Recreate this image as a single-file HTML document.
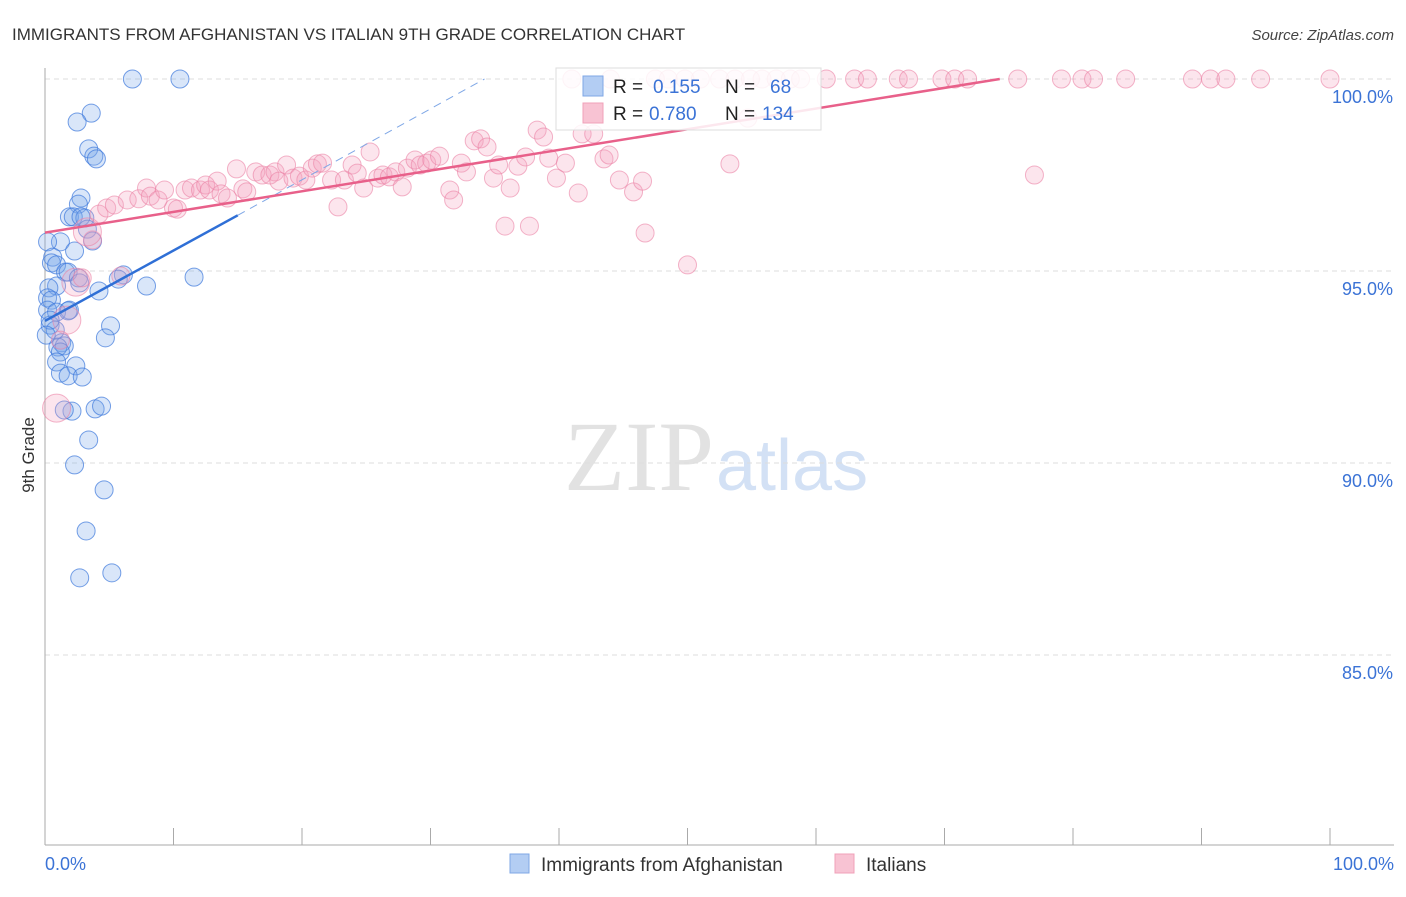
<!DOCTYPE html>
<html><head><meta charset="utf-8"><style>
body{margin:0;background:#fff;font-family:"Liberation Sans",sans-serif}
</style></head><body>
<svg id="chart" width="1406" height="892" xmlns="http://www.w3.org/2000/svg">
<text x="12" y="40" font-size="17" fill="#333">IMMIGRANTS FROM AFGHANISTAN VS ITALIAN 9TH GRADE CORRELATION CHART</text>
<text x="1394" y="40" font-size="15" fill="#444" font-style="italic" text-anchor="end">Source: ZipAtlas.com</text>
<text x="714" y="490" font-size="100" fill="#e2e2e2" text-anchor="end" font-family="Liberation Serif,serif">ZIP</text>
<text x="716" y="490" font-size="72" fill="#d3e1f5">atlas</text>
<g id="grid"></g>
<g id="axes"></g>
<g id="marks"></g>
<text transform="translate(34,455) rotate(-90)" font-size="17" fill="#333" text-anchor="middle">9th Grade</text>
<text x="45" y="870" font-size="18" fill="#3b73d6">0.0%</text>
<text x="1394" y="870" font-size="18" fill="#3b73d6" text-anchor="end">100.0%</text>
<g>
<rect x="556" y="68" width="265" height="62" fill="#fff" fill-opacity="0.85" stroke="#ddd"/>
<rect x="583" y="76" width="20" height="20" fill="#b3cdf3" stroke="#7fa7e6"/>
<rect x="583" y="103" width="20" height="20" fill="#f8c3d3" stroke="#f0a0b8"/>
<text x="613" y="93" font-size="19" fill="#222">R = </text><text x="653" y="93" font-size="19" fill="#3b73d6">0.155</text>
<text x="725" y="93" font-size="19" fill="#222">N = </text><text x="770" y="93" font-size="19" fill="#3b73d6">68</text>
<text x="613" y="120" font-size="19" fill="#222">R = </text><text x="649" y="120" font-size="19" fill="#3b73d6">0.780</text>
<text x="725" y="120" font-size="19" fill="#222">N = </text><text x="762" y="120" font-size="19" fill="#3b73d6">134</text>
</g>
<g>
<rect x="510" y="854" width="19" height="19" fill="#b3cdf3" stroke="#7fa7e6"/>
<text x="541" y="871" font-size="19" fill="#333">Immigrants from Afghanistan</text>
<rect x="835" y="854" width="19" height="19" fill="#f8c3d3" stroke="#f0a0b8"/>
<text x="866" y="871" font-size="19" fill="#333">Italians</text>
</g>
</svg>
<script>
const yTicks=[100,95,90,85];
const yTickLabels=["100.0%","95.0%","90.0%","85.0%"];
const xTicks=[0,10,20,30,40,50,60,70,80,90,100];
const blueX=[6.8,10.5,3.6,2.5,3.4,3.8,4.0,2.8,2.6,1.9,2.2,3.1,2.8,3.3,1.2,0.2,2.3,3.7,0.6,0.5,0.9,1.6,1.8,2.6,6.1,5.7,2.7,0.9,0.3,4.2,7.9,11.6,0.2,0.5,0.2,0.9,1.9,1.8,0.4,5.1,4.7,1.3,1.5,1.0,1.2,0.9,2.4,1.2,1.8,2.9,2.1,1.5,3.9,4.4,3.4,2.3,4.6,3.2,2.7,5.2,0.8,0.4,0.1];
const blueY=[100,100,99.11,98.88,98.18,97.99,97.92,96.90,96.74,96.41,96.41,96.38,96.41,96.09,95.76,95.76,95.52,95.78,95.36,95.21,95.16,94.97,94.97,94.82,94.90,94.79,94.69,94.61,94.56,94.48,94.61,94.84,94.30,94.24,93.98,93.93,93.98,93.96,93.59,93.57,93.26,93.13,93.05,93.02,92.89,92.63,92.53,92.34,92.27,92.24,91.35,91.38,91.41,91.48,90.60,89.95,89.30,88.23,87.01,87.14,93.46,93.72,93.33];
const pinkX=[0.9,1.7,1.2,2.4,2.9,5.9,3.7,3.3,4.2,4.8,5.4,6.4,7.3,7.9,8.2,8.8,9.3,10.0,10.3,10.9,11.4,12.1,12.5,12.8,13.4,13.7,14.2,14.9,15.4,15.7,16.4,16.9,17.5,17.9,18.2,18.8,19.3,19.8,20.3,20.8,21.2,21.6,22.3,22.8,23.3,23.9,24.3,24.8,25.3,25.9,26.3,26.8,27.3,27.8,28.2,28.8,29.2,29.7,30.1,30.7,31.5,31.8,32.4,32.8,33.4,33.9,34.4,34.9,35.3,35.8,36.2,36.8,37.4,37.7,38.3,38.8,39.2,39.8,40.5,41.5,41.8,42.7,43.5,43.9,44.7,45.8,46.5,46.7,50.0,53.3,77.0,54.7,41.0,44.0,47.5,48.5,49.8,51.0,52.5,53.7,54.9,55.8,56.9,58.0,58.8,60.8,63.0,64.0,66.4,67.2,69.8,70.8,71.8,75.7,79.1,80.7,81.6,84.1,89.3,90.7,91.9,94.6,100];
const pinkY=[91.43,93.72,93.20,94.71,94.82,94.87,95.81,96.02,96.48,96.64,96.72,96.85,96.88,97.16,96.95,96.85,97.11,96.64,96.61,97.11,97.16,97.11,97.24,97.11,97.34,97.01,96.90,97.66,97.14,97.06,97.58,97.50,97.50,97.58,97.34,97.76,97.42,97.47,97.37,97.68,97.79,97.81,97.37,96.67,97.37,97.76,97.55,97.16,98.10,97.42,97.50,97.45,97.58,97.19,97.68,97.89,97.76,97.81,97.89,97.99,97.11,96.85,97.81,97.58,98.39,98.44,98.23,97.42,97.76,96.17,97.16,97.73,97.97,96.17,98.67,98.49,97.94,97.42,97.81,97.03,98.57,98.57,97.92,98.02,97.37,97.06,97.34,95.99,95.16,97.79,97.50,98.98,100,100,100,100,100,100,100,100,100,100,100,100,100,100,100,100,100,100,100,100,100,100,100,100,100,100,100,100,100,100,100];
const pinkBig=[0,1,3,7];
const blueTrend=[[0,93.7],[15,96.45]];
const blueTrendDash=[[15,96.45],[34.2,100]];
const pinkTrend=[[0,96.0],[74.3,100]];
const NS="http://www.w3.org/2000/svg";
const X=v=>45+v*12.85;
const Y=v=>79+(100-v)*38.4;
function mk(tag,attrs,parent){const e=document.createElementNS(NS,tag);for(const k in attrs)e.setAttribute(k,attrs[k]);parent.appendChild(e);return e;}
const grid=document.getElementById('grid'),axes=document.getElementById('axes'),marks=document.getElementById('marks');
yTicks.forEach((t,i)=>{
 const l=mk('line',{x1:45,x2:1394,y1:Y(t),y2:Y(t),stroke:'#ddd','stroke-dasharray':'5,4'},grid);
 
 
 const tx=mk('text',{x:1393,y:Y(t)+24,'font-size':18,fill:'#3b73d6','text-anchor':'end'},grid);
 tx.textContent=yTickLabels[i];
 
 
});
const ax=mk('line',{x1:45,x2:45,y1:68,y2:845,stroke:'#aaa'},axes);


const bx=mk('line',{x1:45,x2:1394,y1:845,y2:845,stroke:'#aaa'},axes);


xTicks.forEach(t=>{
 const l=mk('line',{x1:X(t),x2:X(t),y1:828,y2:845,stroke:'#aaa'},axes);
 
 
});
blueX.forEach((v,i)=>{
 const c=mk('circle',{cx:X(v),cy:Y(blueY[i]),r:9,fill:'rgba(120,165,235,0.28)',stroke:'rgba(60,120,220,0.7)','stroke-width':1},marks);
 
 
});
pinkX.forEach((v,i)=>{
 const c=mk('circle',{cx:X(v),cy:Y(pinkY[i]),r:pinkBig.includes(i)?14:9,fill:'rgba(245,160,190,0.28)',stroke:'rgba(235,130,165,0.6)','stroke-width':1},marks);
 
 
});
const bt=mk('line',{x1:X(blueTrend[0][0]),y1:Y(blueTrend[0][1]),x2:X(blueTrend[1][0]),y2:Y(blueTrend[1][1]),stroke:'#2f6fd6','stroke-width':2.5},marks);


const bd=mk('line',{x1:X(blueTrendDash[0][0]),y1:Y(blueTrendDash[0][1]),x2:X(blueTrendDash[1][0]),y2:Y(blueTrendDash[1][1]),stroke:'#7fa7e6','stroke-width':1,'stroke-dasharray':'8,6'},marks);


const pt=mk('line',{x1:X(pinkTrend[0][0]),y1:Y(pinkTrend[0][1]),x2:X(pinkTrend[1][0]),y2:Y(pinkTrend[1][1]),stroke:'#e8608a','stroke-width':2.5},marks);


</script>
</body></html>
